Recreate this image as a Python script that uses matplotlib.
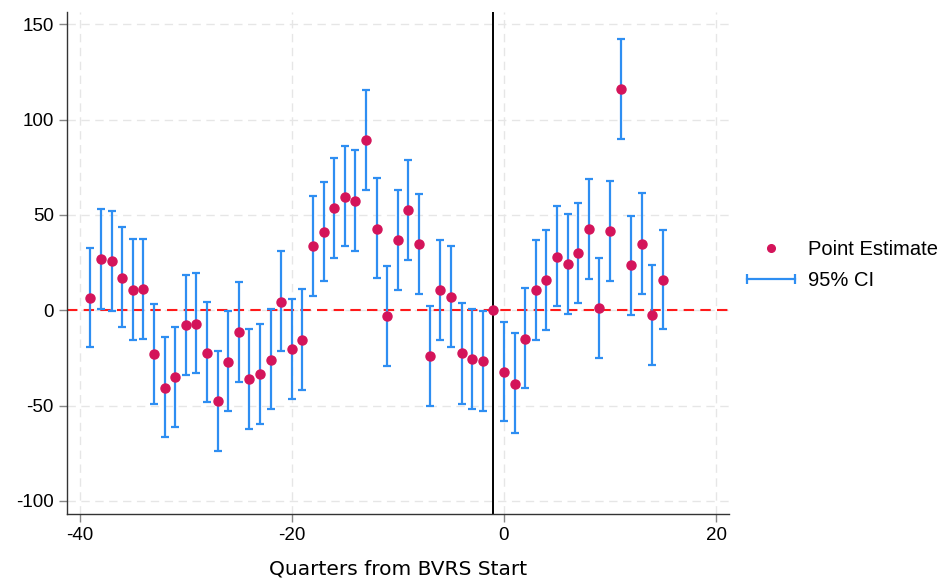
import matplotlib.pyplot as plt
from matplotlib.lines import Line2D
from matplotlib.legend_handler import HandlerLine2D

# event-study estimates by quarter relative to BVRS start
quarters = list(range(-39, 16))
estimate = [6.5, 27.1, 25.7, 17.1, 10.8, 11.0, -23.0, -40.7, -35.1, -7.7,
            -7.2, -22.2, -47.5, -27.1, -11.5, -36.3, -33.4, -25.9, 4.4, -20.4,
            -15.6, 33.7, 41.0, 53.5, 59.6, 57.5, 89.1, 42.8, -3.0, 37.0,
            52.6, 34.7, -23.8, 10.7, 7.2, -22.5, -25.7, -26.7, 0.0, -32.2,
            -38.4, -14.8, 10.5, 15.9, 28.1, 24.1, 30.0, 42.5, 1.4, 41.4,
            115.8, 23.6, 34.6, -2.5, 16.1]
ci_low = [-19.4, 0.9, -0.4, -8.7, -15.4, -14.9, -49.3, -66.7, -61.0, -33.9,
          -33.0, -48.0, -73.7, -52.9, -37.6, -62.4, -59.7, -51.9, -21.5, -46.6,
          -42.0, 7.7, 15.2, 27.3, 33.5, 31.3, 63.2, 16.8, -29.2, 10.7,
          26.4, 8.7, -50.0, -15.4, -19.0, -49.0, -52.0, -53.0, None, -58.3,
          -64.6, -41.0, -15.6, -10.3, 2.1, -2.1, 3.7, 16.6, -25.1, 15.4,
          89.8, -2.5, 8.7, -28.7, -9.8]
ci_high = [32.7, 53.3, 52.0, 43.7, 37.2, 37.2, 3.1, -14.0, -8.7, 18.5,
           19.4, 4.4, -21.3, -0.5, 14.8, -10.0, -7.3, 0.9, 30.9, 5.9,
           11.0, 59.9, 67.2, 79.7, 86.0, 83.9, 115.3, 69.2, 23.4, 63.2,
           79.0, 61.1, 2.3, 36.7, 33.5, 4.0, 0.7, -0.5, None, -5.9,
           -12.1, 11.5, 36.8, 42.1, 54.7, 50.5, 56.2, 68.7, 27.6, 67.8,
           142.2, 49.6, 61.3, 23.6, 42.1]

plt.rcParams['font.family'] = ['Liberation Sans', 'DejaVu Sans']
plt.rcParams['axes.unicode_minus'] = False

PT_COLOR = '#D4145A'
CI_COLOR = '#2E8EF2'

fig = plt.figure(figsize=(9.48, 5.84), dpi=100)
ax = fig.add_axes([0.0707, 0.12, 0.698, 0.859])

# quarter -1 is the omitted reference period, so it has no interval
ci_x, ci_lo, ci_hi = [], [], []
for q, lo, hi in zip(quarters, ci_low, ci_high):
    if lo is not None:
        ci_x.append(q)
        ci_lo.append(lo)
        ci_hi.append(hi)

ax.axhline(0, color='#FF1A1A', linestyle=(0, (5, 3)), linewidth=1.5, zorder=1)
ax.axvline(-1, color='black', linewidth=1.4, zorder=1)

ax.vlines(ci_x, ci_lo, ci_hi, color=CI_COLOR, linewidth=1.6, zorder=2)
ax.plot(ci_x, ci_lo, '_', color=CI_COLOR, markersize=5.5, markeredgewidth=1.6,
        zorder=2)
ax.plot(ci_x, ci_hi, '_', color=CI_COLOR, markersize=5.5, markeredgewidth=1.6,
        zorder=2)
ax.plot(quarters, estimate, 'o', color=PT_COLOR, markersize=6.5,
        linestyle='none', zorder=3)

ax.set_xlim(-41.2, 21.2)
ax.set_ylim(-106.8, 156.3)
ax.set_xticks([-40, -20, 0, 20])
ax.set_yticks([-100, -50, 0, 50, 100, 150])
ax.grid(True, color='#E6E6E6', linestyle=(0, (6, 4)), linewidth=1.0)
ax.set_axisbelow(True)

for side in ['top', 'right']:
    ax.spines[side].set_visible(False)
for side in ['left', 'bottom']:
    ax.spines[side].set_color('#333333')
    ax.spines[side].set_linewidth(1.0)
ax.tick_params(direction='out', length=6, width=1, color='#888888',
               labelsize=13.5, labelcolor='black')

ax.set_xlabel('Quarters from BVRS Start', fontsize=14.5,
              family=['Liberation Sans Narrow', 'DejaVu Sans'], labelpad=11)

pt_handle = Line2D([], [], color=PT_COLOR, marker='o', markersize=5.5,
                   linestyle='none')
ci_handle = Line2D([], [], color=CI_COLOR, linewidth=1.6, marker='|',
                   markersize=7, markeredgewidth=1.6)
fig.legend([pt_handle, ci_handle], ['Point Estimate', '95% CI'],
           loc='center left', bbox_to_anchor=(0.788, 0.546),
           bbox_transform=fig.transFigure, frameon=False, fontsize=14.5,
           borderpad=0, borderaxespad=0, handlelength=2.4,
           handletextpad=0.65, labelspacing=0.6,
           handler_map={ci_handle: HandlerLine2D(numpoints=2, marker_pad=0)})

fig.savefig('out.png', dpi=100)
